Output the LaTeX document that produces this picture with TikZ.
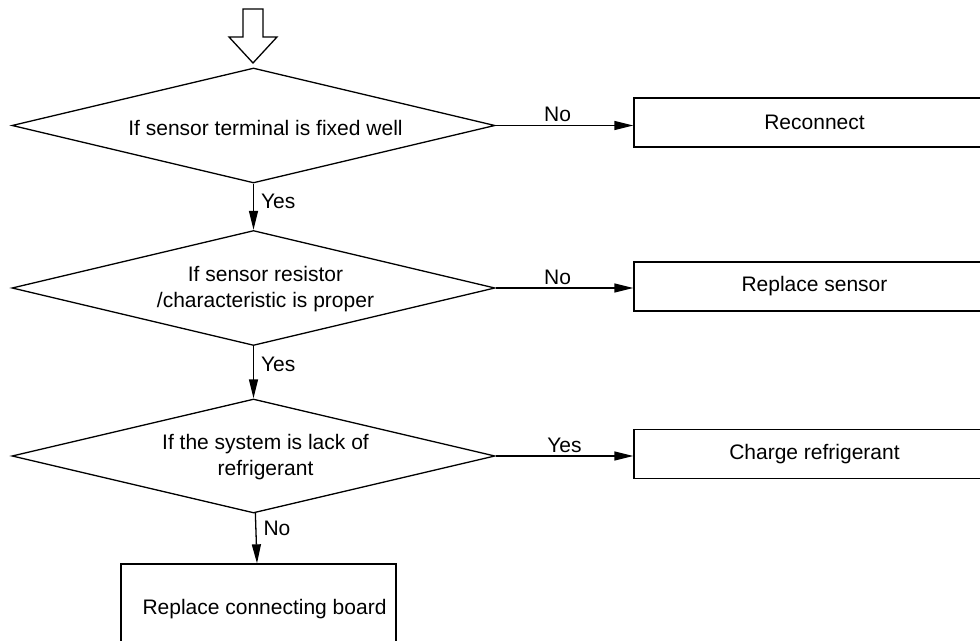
\documentclass[tikz,border=0pt]{standalone}
\usepackage{fontspec}
\setmainfont{Liberation Sans}
\usepackage{tikz}
\usetikzlibrary{shapes.geometric}
\usetikzlibrary{arrows.meta}

\begin{document}
\begin{tikzpicture}[line width=1.3pt]
    \tikzset{question/.style={diamond, draw, aspect=4.2, inner sep=0pt, minimum width=483pt, minimum height=115pt},
             action/.style={rectangle, draw, inner sep=0pt, minimum height=49pt, minimum width=361pt},
             txt/.style={font=\fontsize{21}{26.5}\selectfont, align=center},
             lbl/.style={font=\fontsize{21}{26.5}\selectfont, inner sep=3pt},
             flow/.style={-{Triangle[length=19pt, width=9pt]}}};
%%
\useasboundingbox (0,0) rectangle (980pt,640pt);
\clip (0,0) rectangle (980pt,640pt);
  \node (1) at (253.5pt,514.5pt) [question, label={[txt, xshift=12pt, yshift=-2pt]center:If sensor terminal is fixed well}] {};
  \node (2) at (253.5pt,352pt) [question, label={[txt, xshift=12pt, yshift=-1pt]center:If sensor resistor\\/characteristic is proper}] {};
  \node (3) at (253.5pt,184pt) [question, minimum height=114pt, label={[txt, xshift=12pt, yshift=-1pt]center:If the system is lack of\\refrigerant}] {};
  \node (4) at (814.5pt,517.5pt) [action, txt] {Reconnect};
  \node (5) at (814.5pt,353.5pt) [action, txt] {Replace sensor};
  \node (6) at (814.5pt,186pt) [action, txt] {Charge refrigerant};
  \node (7) at (258.5pt,31pt) [action, minimum width=275pt, minimum height=90pt, label={[txt, xshift=6pt]center:Replace connecting board}] {};
  %\node (0) at (253pt,620pt) {};

  \draw [fill=white] (243pt,631pt) -- (263pt,631pt) -- (263pt,603pt) -- (277pt,603pt) -- (253pt,577pt) -- (229pt,603pt) -- (243pt,603pt) -- cycle;

  \draw [flow] (1) -- node [lbl, right, pos=0.38, xshift=4pt] {Yes} (2);
  \draw [flow] (2) -- node [lbl, right, pos=0.35, xshift=4pt] {Yes} (3);
  \draw [flow] (3) -- node [lbl, right, pos=0.3, xshift=4pt] {No} (7);
  \draw [flow] (1.east) -- node [lbl, above, pos=0.45] {No} (1.east -| 4.west);
  \draw [flow] (2.east) -- node [lbl, above, pos=0.45] {No} (2.east -| 5.west);
  \draw [flow] (3.east) -- node [lbl, above, pos=0.5] {Yes} (3.east -| 6.west);
  %
\end{tikzpicture}
\end{document}
